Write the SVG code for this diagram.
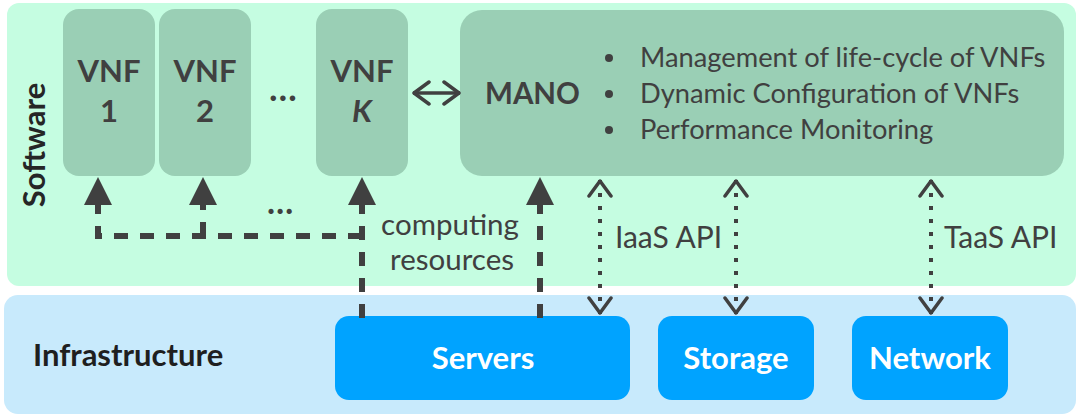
<svg xmlns="http://www.w3.org/2000/svg" width="1078" height="417" viewBox="0 0 1078 417">
  <style>
    .panel-sw { fill: #c5fde1; }
    .panel-inf { fill: #c8eafc; }
    .vnf { fill: #9acfb5; }
    .hw { fill: #00a3ff; }
    .t { font-family: Lato, "Liberation Sans", sans-serif; fill: #404040; }
    .b { font-weight: bold; }
    .big { font-size: 31px; }
    .mid { font-size: 27.3px; }
    .lbl { font-size: 30px; }
    .white { fill: #ffffff; }
    .thick { fill: none; stroke: #404040; stroke-width: 6; stroke-dasharray: 14 12; }
    .dots { fill: none; stroke: #404040; stroke-width: 4; stroke-dasharray: 4 9; }
    .solid { fill: none; stroke: #404040; stroke-width: 3.5; }
  </style>
  <defs>
    <marker id="tri" viewBox="0 0 28 28" refX="0" refY="14" markerWidth="28" markerHeight="28" markerUnits="userSpaceOnUse" orient="auto">
      <path d="M0,0 L28,14 L0,28 Z" fill="#404040"/>
    </marker>
    <marker id="chev" viewBox="-2 -14 20 28" refX="16" refY="0" markerWidth="20" markerHeight="28" markerUnits="userSpaceOnUse" orient="auto-start-reverse">
      <path d="M0,-11 L15,0 L0,11" fill="none" stroke="#404040" stroke-width="3.5" stroke-linecap="round" stroke-linejoin="round"/>
    </marker>
  </defs>

  <!-- layer backgrounds -->
  <rect class="panel-sw" x="7" y="3" width="1069" height="283" rx="12"/>
  <rect class="panel-inf" x="4" y="295" width="1072" height="119" rx="14"/>
  <text class="t b big" transform="translate(45,145) rotate(-90)" text-anchor="middle" style="fill:#262626">Software</text>
  <text class="t b big" x="33" y="366" style="fill:#1f1f1f">Infrastructure</text>

  <!-- software nodes -->
  <g id="vnf1">
    <rect class="vnf" x="63" y="9" width="92" height="167" rx="16"/>
    <text class="t b big" x="109" y="82" text-anchor="middle">VNF</text>
    <text class="t b big" x="109" y="122" text-anchor="middle">1</text>
  </g>
  <g id="vnf2">
    <rect class="vnf" x="159" y="9" width="92" height="167" rx="16"/>
    <text class="t b big" x="205" y="82" text-anchor="middle">VNF</text>
    <text class="t b big" x="205" y="122" text-anchor="middle">2</text>
  </g>
  <g id="vnf-ellipsis">
    <text class="t b" font-size="36" x="283" y="101" text-anchor="middle">…</text>
  </g>
  <g id="vnfk">
    <rect class="vnf" x="316" y="9" width="92" height="167" rx="16"/>
    <text class="t b big" x="362" y="82" text-anchor="middle">VNF</text>
    <text class="t b big" x="362" y="122" text-anchor="middle" font-style="italic">K</text>
  </g>
  <g id="mano">
    <rect class="vnf" x="460" y="10" width="604" height="166" rx="22"/>
    <text class="t b" font-size="29.5" x="485" y="104">MANO</text>
    <g class="t mid">
      <circle cx="609" cy="58" r="4" fill="#404040"/>
      <circle cx="609" cy="94" r="4" fill="#404040"/>
      <circle cx="609" cy="130" r="4" fill="#404040"/>
      <text x="640" y="67">Management of life-cycle of VNFs</text>
      <text x="640" y="103">Dynamic Configuration of VNFs</text>
      <text x="640" y="139">Performance Monitoring</text>
    </g>
  </g>

  <!-- infrastructure nodes -->
  <g id="servers">
    <rect class="hw" x="335" y="316" width="295" height="84" rx="14"/>
    <text class="t b big white" x="483" y="369" text-anchor="middle">Servers</text>
  </g>
  <g id="storage">
    <rect class="hw" x="658" y="316" width="156" height="84" rx="14"/>
    <text class="t b big white" x="736" y="369" text-anchor="middle">Storage</text>
  </g>
  <g id="network">
    <rect class="hw" x="852" y="316" width="156" height="84" rx="14"/>
    <text class="t b big white" x="930" y="369" text-anchor="middle">Network</text>
  </g>

  <!-- connectors -->
  <g id="connectors">
    <!-- VNF K to MANO -->
    <path class="solid" d="M413,93 H460" marker-start="url(#chev)" marker-end="url(#chev)"/>
    <!-- computing resources from servers -->
    <path class="thick" d="M362,318 V205" marker-end="url(#tri)"/>
    <path class="thick" d="M362,236 H98 V205" marker-end="url(#tri)"/>
    <path class="thick" d="M203,236 V205" marker-end="url(#tri)"/>
    <path class="thick" d="M540,318 V205" marker-end="url(#tri)"/>
    <!-- management APIs -->
    <path class="dots" d="M600,180 V314" marker-start="url(#chev)" marker-end="url(#chev)"/>
    <path class="dots" d="M736,180 V314" marker-start="url(#chev)" marker-end="url(#chev)"/>
    <path class="dots" d="M931,180 V314" marker-start="url(#chev)" marker-end="url(#chev)"/>
    <text class="t b" font-size="34" x="280" y="214" text-anchor="middle">…</text>
  </g>

  <!-- connector labels -->
  <text class="t" font-size="29.5" x="450" y="235" text-anchor="middle">computing</text>
  <text class="t" font-size="29.5" x="452" y="270" text-anchor="middle">resources</text>
  <text class="t lbl" x="615" y="248">IaaS API</text>
  <text class="t lbl" x="944" y="248">TaaS API</text>
</svg>
